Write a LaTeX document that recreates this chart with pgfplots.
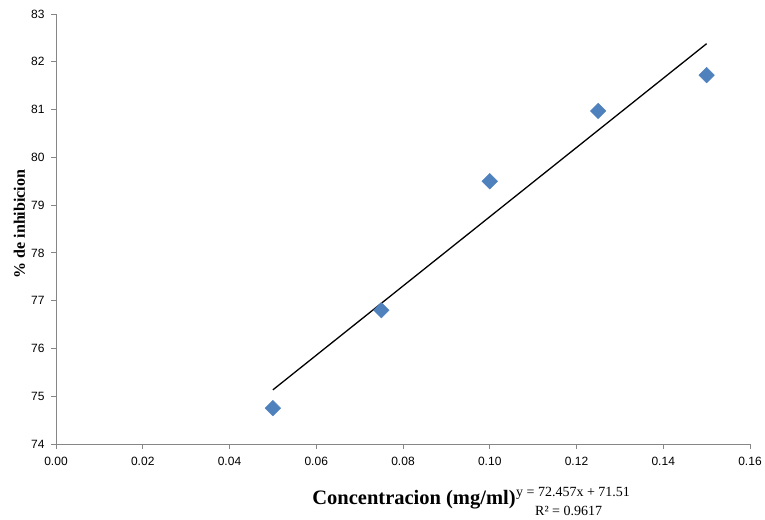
\documentclass[border=0pt]{standalone}
\usepackage{pgfplots}
\pgfplotsset{compat=1.18}
\usepackage{fontspec}
\setmainfont{Liberation Serif}
\setsansfont{Liberation Sans}
\definecolor{excelblue}{HTML}{4F81BD}
\definecolor{axgray}{HTML}{868686}
\begin{document}
\begin{tikzpicture}
\begin{axis}[
  anchor=south west,
  scale only axis, width=694pt, height=430pt,
  xmin=0, xmax=0.16, ymin=74, ymax=83,
  xtick={0,0.02,...,0.16}, ytick={74,75,...,83},
  axis x line*=bottom, axis y line*=left,
  axis line style={axgray, line width=0.8pt},
  tick style={axgray, line width=0.8pt},
  tick align=outside, major tick length=5pt,
  x tick label style={yshift=-5pt, font=\sffamily\fontsize{12}{14}\selectfont, /pgf/number format/.cd, fixed, fixed zerofill, precision=2, assume math mode=true},
  y tick label style={xshift=-3pt, font=\sffamily\fontsize{12}{14}\selectfont, /pgf/number format/assume math mode=true},
  scaled x ticks=false,
  clip=false,
]
\addplot[only marks, mark=square*, mark size=5.5pt, mark options={excelblue, fill=excelblue, rotate=45}]
  coordinates {(0.05,74.75) (0.075,76.80) (0.10,79.50) (0.125,80.97) (0.15,81.72)};
\addplot[black, line width=1.3pt] coordinates {(0.05,75.133) (0.15,82.379)};
\end{axis}
\begin{scope}[x=1pt,y=1pt]
\path[use as bounding box] (-56,-76) rectangle (709,444);
\node[font=\bfseries\fontsize{20.5}{23}\selectfont, anchor=base, inner sep=0pt] at (358,-61) {Concentracion (mg/ml)};
\node[font=\fontsize{14}{16}\selectfont, anchor=base west, inner sep=0pt] at (460,-53) {y = 72.457x + 71.51};
\node[font=\fontsize{14}{16}\selectfont, anchor=base west, inner sep=0pt] at (479,-72) {R² = 0.9617};
\node[font=\bfseries\fontsize{16}{19}\selectfont, rotate=90, anchor=base, inner sep=0pt] at (-31,220) {\% de inhibicion};
\end{scope}
\end{tikzpicture}
\end{document}
